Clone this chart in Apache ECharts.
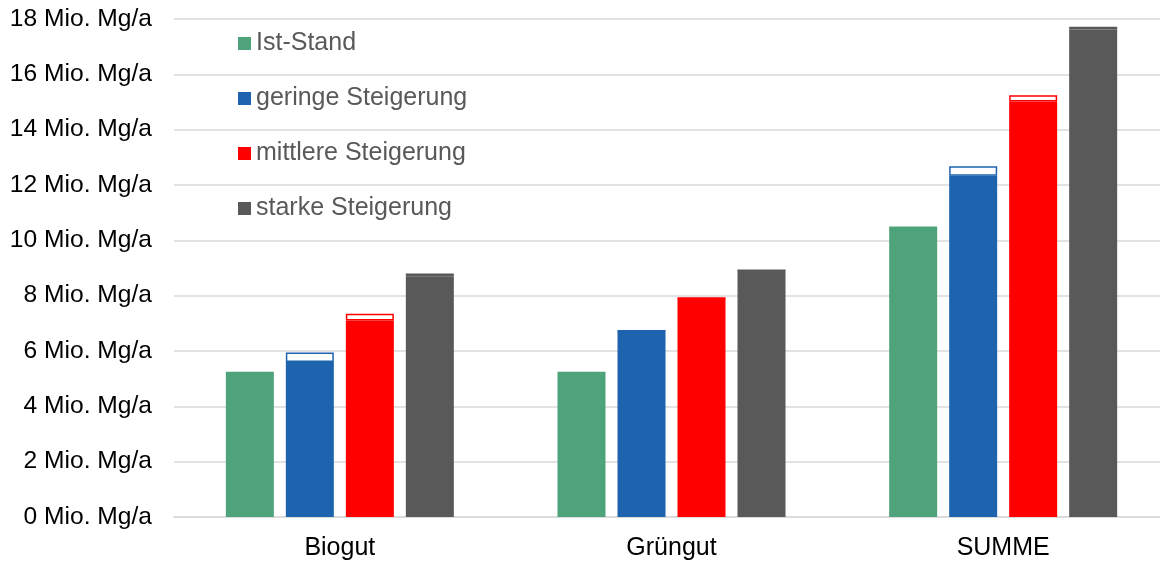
<!DOCTYPE html>
<html>
<head>
<meta charset="utf-8">
<script src="https://cdn.jsdelivr.net/npm/echarts@6/dist/echarts.min.js"></script>
<style>
  html, body { margin: 0; padding: 0; background: #fff; overflow: hidden; }
  #chart { width: 1169px; height: 563px; }
</style>
</head>
<body>
<div id="chart"></div>
<script>
// Aufkommen Bio- und Grüngut je Szenario (Mio. Mg/a)
const categories = ['Biogut', 'Grüngut', 'SUMME'];
const istStand = [5.25, 5.25, 10.5];
const geringeBasis = [5.6, 6.73, 12.33];
const geringeZusatz = [0.35, 0, 0.35];
const mittlereBasis = [7.1, 7.92, 15.02];
const mittlereZusatz = [0.25, 0, 0.22];
const starkeBasis = [8.7, 8.92, 17.62];
const starkeZusatz = [0.1, 0, 0.1];
const yTicks = { min: 0, max: 18, interval: 2 };

const FONT = '"Liberation Sans", Arial, sans-serif';
const colors = {
  ist: '#4ea37a',
  geringe: '#1e63ae',
  mittlere: '#ff0000',
  starke: '#595959'
};

function baseSeries(name, data, color, stack) {
  return {
    name: name, type: 'bar', stack: stack, data: data,
    barWidth: 48, barGap: '25%',
    itemStyle: { color: color },
    emphasis: { disabled: true }
  };
}
function topSeries(name, data, color, stack) {
  return {
    name: name, type: 'bar', stack: stack, data: data,
    barWidth: 48, barGap: '25%',
    itemStyle: { color: '#ffffff', borderColor: color, borderWidth: 1.5 },
    emphasis: { disabled: true }
  };
}

const chart = echarts.init(document.getElementById('chart'), null, { renderer: 'canvas' });
chart.setOption({
  backgroundColor: '#ffffff',
  animation: false,
  textStyle: { fontFamily: FONT },
  legend: {
    data: ['Ist-Stand', 'geringe Steigerung', 'mittlere Steigerung', 'starke Steigerung'],
    orient: 'vertical',
    left: 238, top: 31, padding: 0,
    icon: 'rect', itemWidth: 13, itemHeight: 13, itemGap: 30,
    textStyle: { fontFamily: FONT, fontSize: 25, color: '#595959', lineHeight: 25 }
  },
  grid: { left: 174, top: 19, right: 0, bottom: 46, containLabel: false },
  xAxis: {
    type: 'category', data: categories,
    axisLine: { lineStyle: { color: '#d9d9d9', width: 1.5 } },
    axisTick: { show: false },
    axisLabel: { fontFamily: FONT, fontSize: 25, color: '#000', margin: 19 }
  },
  yAxis: {
    type: 'value', min: yTicks.min, max: yTicks.max, interval: yTicks.interval,
    axisLine: { show: false }, axisTick: { show: false },
    splitLine: { lineStyle: { color: '#d9d9d9', width: 1.5 } },
    axisLabel: { fontFamily: FONT, fontSize: 24.6, color: '#000', margin: 22,
      formatter: '{value} Mio. Mg/a' }
  },
  series: [
    baseSeries('Ist-Stand', istStand, colors.ist, 'ist'),
    baseSeries('geringe Steigerung', geringeBasis, colors.geringe, 'geringe'),
    topSeries('geringe Steigerung (Zusatz)', geringeZusatz, colors.geringe, 'geringe'),
    baseSeries('mittlere Steigerung', mittlereBasis, colors.mittlere, 'mittlere'),
    topSeries('mittlere Steigerung (Zusatz)', mittlereZusatz, colors.mittlere, 'mittlere'),
    baseSeries('starke Steigerung', starkeBasis, colors.starke, 'starke'),
    topSeries('starke Steigerung (Zusatz)', starkeZusatz, colors.starke, 'starke')
  ]
});
</script>
</body>
</html>
